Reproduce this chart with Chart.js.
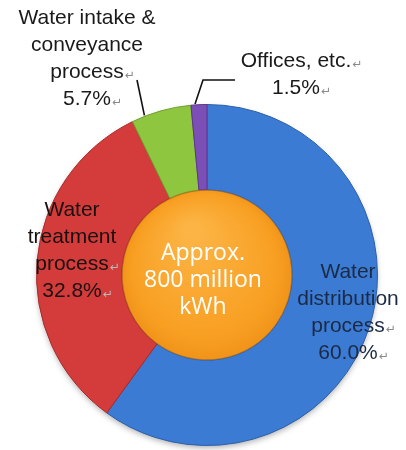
<!DOCTYPE html>
<html>
<head>
<meta charset="utf-8">
<script src="https://cdn.jsdelivr.net/npm/chart.js@4.4.1/dist/chart.umd.min.js"></script>
<style>
  html, body { margin: 0; padding: 0; background: #fff; }
  #wrap { width: 406px; height: 450px; }
</style>
</head>
<body>
<div id="wrap"><canvas id="energyChart" width="406" height="450"></canvas></div>
<script>
// chart values
const categories = ['Water distribution process', 'Water treatment process', 'Water intake & conveyance process', 'Offices, etc.'];
const shares = [60.0, 32.8, 5.7, 1.5];
const totalKwh = [800];
const centerLines = ['Approx.', '800 million', 'kWh'];
// how each category name breaks over lines
const labelLines = [
    ['Water', 'distribution', 'process'],
    ['Water', 'treatment', 'process'],
    ['Water intake &', 'conveyance', 'process'],
    ['Offices, etc.']
];

const sliceColors = ['#3b7bd3', '#d43b3b', '#8fc640', '#7c4fb6'];
const sliceEdges = ['#2c5fa8', '#a82a2a', '#6f9d2d', '#5c3690'];
const labelFont = '21px "Liberation Sans", Arial, sans-serif';
const markFont = '12px "DejaVu Sans", sans-serif';

// where the text blocks sit: centre x, first line y, text colour, leader line
const labelSpots = [
    { x: 348, y: 272, color: '#1b2a45' },
    { x: 72, y: 210, color: '#1a1010', markColor: '#b9b9b9' },
    { x: 87, y: 18, color: '#1a1a1a', leader: { from: [137, 80], at: 0.22 } },
    { x: 296, y: 61, color: '#1a1a1a', leader: { from: [235, 80], knee: [203, 80], at: 0.26 } }
];

function drawLine(ctx, text, x, y, color, markColor, withMark) {
    ctx.font = labelFont;
    ctx.fillStyle = color;
    ctx.textAlign = 'center';
    ctx.textBaseline = 'middle';
    ctx.fillText(text, x, y);
    if (withMark) {
        const w = ctx.measureText(text).width;
        ctx.font = markFont;
        ctx.fillStyle = markColor || '#8a8a8a';
        ctx.textAlign = 'left';
        ctx.fillText('\u21b5', x + w / 2 + 1, y + 4);
    }
}

const shadowPlugin = {
    id: 'pieShadow',
    beforeDatasetsDraw(chart) {
        const arc = chart.getDatasetMeta(0).data[0];
        if (!arc) return;
        const ctx = chart.ctx;
        ctx.save();
        ctx.shadowColor = 'rgba(0,0,0,0.35)';
        ctx.shadowBlur = 6;
        ctx.shadowOffsetY = 3;
        ctx.fillStyle = '#888';
        ctx.beginPath();
        ctx.arc(arc.x, arc.y, arc.outerRadius - 1, 0, Math.PI * 2);
        ctx.fill();
        ctx.restore();
    }
};

const labelPlugin = {
    id: 'sliceLabels',
    afterDatasetsDraw(chart) {
        const ctx = chart.ctx;
        const arcs = chart.getDatasetMeta(0).data;
        ctx.save();

        // rim of the centre disc
        const mid = chart.getDatasetMeta(1).data[0];
        ctx.strokeStyle = 'rgba(190,110,20,0.7)';
        ctx.lineWidth = 1;
        ctx.beginPath();
        ctx.arc(mid.x, mid.y, mid.outerRadius - 0.5, 0, Math.PI * 2);
        ctx.stroke();

        // leader lines towards the thin slices
        labelSpots.forEach((spot, i) => {
            if (!spot.leader) return;
            const arc = arcs[i];
            const a = arc.startAngle + (arc.endAngle - arc.startAngle) * spot.leader.at;
            const ex = arc.x + Math.cos(a) * (arc.outerRadius + 1);
            const ey = arc.y + Math.sin(a) * (arc.outerRadius + 1);
            ctx.strokeStyle = '#111';
            ctx.lineWidth = 1.6;
            ctx.beginPath();
            ctx.moveTo(spot.leader.from[0], spot.leader.from[1]);
            if (spot.leader.knee) ctx.lineTo(spot.leader.knee[0], spot.leader.knee[1]);
            ctx.lineTo(ex, ey);
            ctx.stroke();
        });

        labelSpots.forEach((spot, i) => {
            const lines = labelLines[i].concat([shares[i].toFixed(1) + '%']);
            lines.forEach((t, k) => {
                const withMark = (k >= lines.length - 2);
                drawLine(ctx, t, spot.x, spot.y + k * 27, spot.color, spot.markColor, withMark);
            });
        });

        // total in the middle
        ctx.font = '23px "Open Sans", "Liberation Sans", sans-serif';
        ctx.fillStyle = '#ffffff';
        ctx.textAlign = 'center';
        ctx.textBaseline = 'middle';
        centerLines.forEach((t, k) => {
            ctx.fillText(t, mid.x - 4, mid.y + 5 + (k - 1) * 27);
        });
        ctx.restore();
    }
};

const ctx = document.getElementById('energyChart').getContext('2d');
new Chart(ctx, {
    type: 'doughnut',
    data: {
        labels: categories,
        datasets: [{
            data: shares,
            backgroundColor: sliceColors,
            borderColor: sliceEdges,
            borderWidth: 1,
            weight: 1
        }, {
            data: totalKwh,
            backgroundColor: function(c) {
                const area = c.chart.chartArea;
                if (!area) return '#f8a12c';
                const cx = (area.left + area.right) / 2;
                const cy = (area.top + area.bottom) / 2;
                const g = c.chart.ctx.createRadialGradient(cx - 15, cy - 45, 8, cx, cy, 88);
                g.addColorStop(0, '#fcb444');
                g.addColorStop(0.8, '#f89f22');
                g.addColorStop(1, '#ee9218');
                return g;
            },
            borderWidth: 0,
            weight: 1
        }]
    },
    options: {
        responsive: false,
        animation: false,
        cutout: 0,
        rotation: 0,
        layout: {
            padding: { top: 104, bottom: 4, left: 36, right: 28 }
        },
        plugins: {
            legend: { display: false },
            tooltip: { enabled: false }
        }
    },
    plugins: [shadowPlugin, labelPlugin]
});
</script>
</body>
</html>
